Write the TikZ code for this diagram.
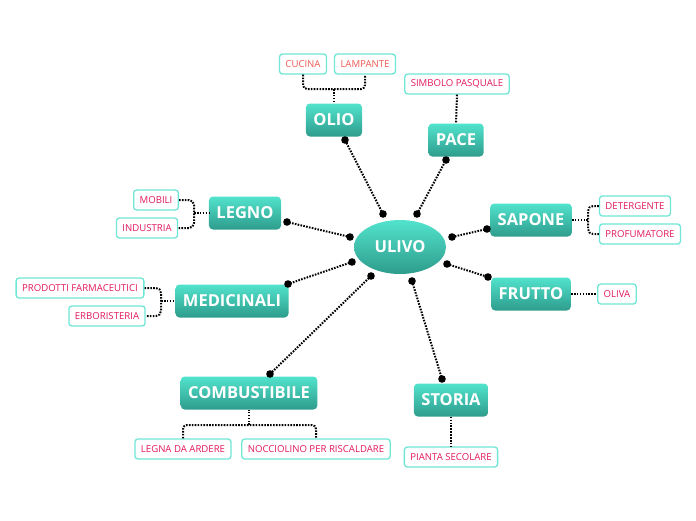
\documentclass[tikz,border=0pt]{standalone}
\usepackage{fontspec}
\setmainfont{Open Sans}
\usetikzlibrary{shapes.geometric}
\definecolor{tealtop}{HTML}{52E3CD}
\definecolor{tealbot}{HTML}{2E9C8C}
\definecolor{leafborder}{HTML}{6FE6D6}
\definecolor{leaftext}{HTML}{E2195C}
\definecolor{leafred}{HTML}{EE5A52}
\tikzset{
  x=1pt, y=-1pt,
  branch/.style={shade, top color=tealtop, bottom color=tealbot, rounded corners=4pt,
    minimum height=33pt, inner xsep=7.5pt, text=white, font=\fontsize{16.5}{18}\selectfont\bfseries},
  center/.style={shade, top color=tealtop, bottom color=tealbot, ellipse,
    minimum width=92pt, minimum height=54pt, inner sep=0pt, text=white, font=\fontsize{16.5}{18}\selectfont\bfseries},
  leaf/.style={draw=leafborder, line width=1.3pt, fill=white, rounded corners=3pt,
    minimum height=20pt, inner xsep=6pt, inner ysep=0pt, text=leaftext, font=\fontsize{9.6}{10}\selectfont},
  leafr/.style={leaf, text=leafred},
  conn/.style={line width=2pt, dash pattern=on 1.6pt off 1.3pt, black},
  dot/.style={fill=black},
}
\begin{document}
\begin{tikzpicture}
\useasboundingbox (0,0) rectangle (696,520);
% center
\node[center] (ulivo) at (400,247) {ULIVO};
% branches
\node[branch] (olio) at (334,120) {OLIO};
\node[branch] (pace) at (456,140) {PACE};
\node[branch] (sapone) at (531,220) {SAPONE};
\node[branch] (frutto) at (531,294) {FRUTTO};
\node[branch] (legno) at (245,213) {LEGNO};
\node[branch] (medic) at (232,301) {MEDICINALI};
\node[branch] (comb) at (249,393) {COMBUSTIBILE};
\node[branch] (storia) at (451,400) {STORIA};
% leaves
\node[leafr] (cucina) at (303,64) {CUCINA};
\node[leafr] (lampante) at (365,64) {LAMPANTE};
\node[leaf] (simbolo) at (457,84) {SIMBOLO PASQUALE};
\node[leaf] (deterg) at (635,206) {DETERGENTE};
\node[leaf] (profum) at (640,234) {PROFUMATORE};
\node[leaf] (oliva) at (617,294) {OLIVA};
\node[leaf] (mobili) at (156,200) {MOBILI};
\node[leaf] (industria) at (147,228) {INDUSTRIA};
\node[leaf] (prodotti) at (80,288) {PRODOTTI FARMACEUTICI};
\node[leaf] (erbor) at (107,316) {ERBORISTERIA};
\node[leaf] (legna) at (183,449) {LEGNA DA ARDERE};
\node[leaf] (nocc) at (316,449) {NOCCIOLINO PER RISCALDARE};
\node[leaf] (pianta) at (451,457) {PIANTA SECOLARE};
% dot coordinates
\coordinate (u1) at (383,214);
\coordinate (u2) at (417,214);
\coordinate (u3) at (452,237);
\coordinate (u4) at (447,264);
\coordinate (u5) at (412,281);
\coordinate (u6) at (371,276);
\coordinate (u7) at (352,262);
\coordinate (u8) at (350,237);
\coordinate (b1) at (345,140);
\coordinate (b2) at (446,160);
\coordinate (b3) at (487,229);
\coordinate (b4) at (488,277);
\coordinate (b5) at (442,379);
\coordinate (b6) at (270,374);
\coordinate (b7) at (288,284);
\coordinate (b8) at (287,222);
% main connectors
\draw[conn] (u1) -- (b1);
\draw[conn] (u2) -- (b2);
\draw[conn] (u3) -- (b3);
\draw[conn] (u4) -- (b4);
\draw[conn] (u5) -- (b5);
\draw[conn] (u6) -- (b6);
\draw[conn] (u7) -- (b7);
\draw[conn] (u8) -- (b8);
\foreach \p in {u1,u2,u3,u4,u5,u6,u7,u8,b1,b2,b3,b4,b5,b6,b7,b8}
  \fill[dot] (\p) circle (3.8pt);
% leaf connectors
\coordinate (olbr) at (334,89);
\draw[conn, rounded corners=4pt] (cucina.south) |- (olbr) -| (lampante.south);
\draw[conn] (olbr) -- (olio.north);
\draw[conn] (simbolo.south) -- (pace.north);
\coordinate (sapbr) at (588,220);
\draw[conn, rounded corners=5pt] (deterg.west) -| (sapbr) |- (profum.west);
\draw[conn] (sapbr) -- (sapone.east);
\draw[conn] (frutto.east) -- (oliva.west);
\coordinate (legbr) at (194,213);
\draw[conn, rounded corners=5pt] (mobili.east) -| (legbr) |- (industria.east);
\draw[conn] (legbr) -- (legno.west);
\coordinate (medbr) at (161,301);
\draw[conn, rounded corners=5pt] (prodotti.east) -| (medbr) |- (erbor.east);
\draw[conn] (medbr) -- (medic.west);
\coordinate (combr) at (249,425);
\draw[conn, rounded corners=4pt] (legna.north) |- (combr) -| (nocc.north);
\draw[conn] (combr) -- (comb.south);
\draw[conn] (storia.south) -- (pianta.north);
\end{tikzpicture}
\end{document}
